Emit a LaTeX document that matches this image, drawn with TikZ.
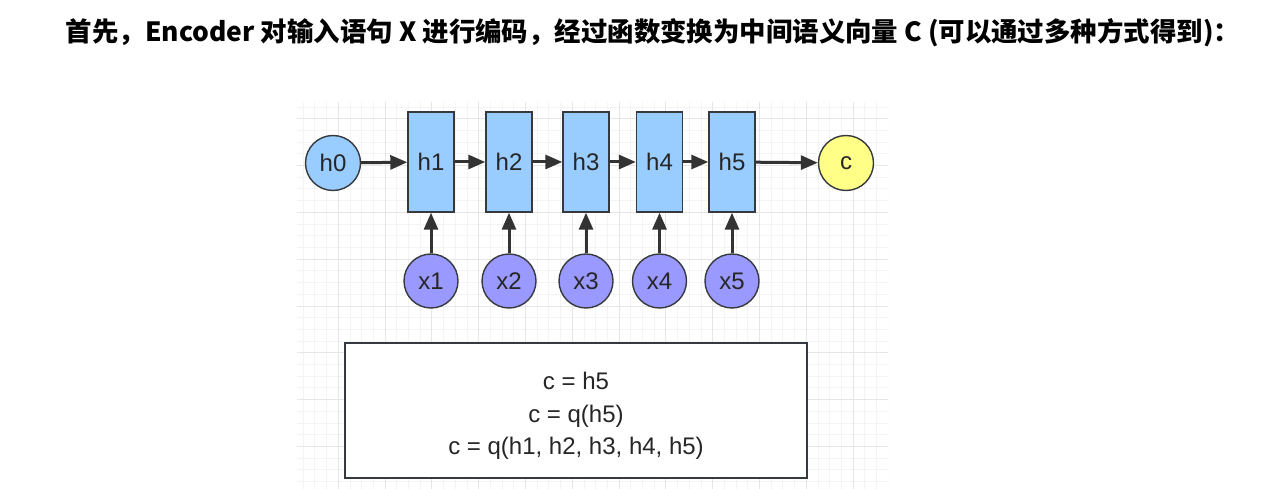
\documentclass[tikz,border=0pt]{standalone}
\usepackage{fontspec}
\setmainfont{Liberation Sans}
\newfontfamily\cjk{Noto Sans CJK SC}
\usetikzlibrary{arrows.meta}
\definecolor{hblue}{RGB}{153,204,255}
\definecolor{xpurple}{RGB}{153,153,255}
\definecolor{cyellow}{RGB}{255,255,136}
\definecolor{edge}{RGB}{54,57,61}
\definecolor{arr}{RGB}{51,51,51}
\definecolor{gridminor}{RGB}{244,244,244}
\definecolor{gridmajor}{RGB}{230,230,230}
\tikzset{
  lbl/.style={font=\fontsize{24}{28}\selectfont, text=black!85},
  hcirc/.style={circle, draw=edge, line width=1.4pt, fill=hblue, minimum size=55pt, inner sep=0pt, lbl},
  hrect/.style={rectangle, draw=edge, line width=1.4pt, fill=hblue, minimum width=46pt, minimum height=100pt, inner sep=0pt, lbl},
  xcirc/.style={circle, draw=edge, line width=1.4pt, fill=xpurple, minimum size=54pt, inner sep=0pt, lbl},
  ccirc/.style={circle, draw=edge, line width=1.4pt, fill=cyellow, minimum size=55pt, inner sep=0pt, lbl},
  conn/.style={draw=arr, line width=3pt, -{Triangle[length=17pt 0, width=14pt 0]}},
  formbox/.style={rectangle, draw=edge, line width=1.4pt, fill=white, minimum width=462pt, minimum height=135pt, inner sep=0pt},
  formtext/.style={align=center, inner sep=0pt, font=\fontsize{24}{32.5}\selectfont, text=black!85}
}
\begin{document}
\begin{tikzpicture}[x=1pt,y=-1pt]
\useasboundingbox (0,0) rectangle (1279,489);
\fill[white] (0,0) rectangle (1279,489);
% grid
\begin{scope}
\clip (297,102) rectangle (888,489);
\foreach \i in {0,...,50} {
  \draw[gridminor, line width=0.8pt] ({853-11.7*\i},102) -- ({853-11.7*\i},489);
}
\foreach \i in {1,2,3} {
  \draw[gridminor, line width=0.8pt] ({853+11.7*\i},102) -- ({853+11.7*\i},489);
}
\foreach \i in {-9,...,24} {
  \draw[gridminor, line width=0.8pt] (297,{212.3+11.7*\i}) -- (888,{212.3+11.7*\i});
}
\foreach \i in {-12,...,1} {
  \draw[gridmajor, line width=0.8pt] ({853+46.8*\i},102) -- ({853+46.8*\i},489);
}
\foreach \i in {-2,...,6} {
  \draw[gridmajor, line width=0.8pt] (297,{212.3+46.8*\i}) -- (888,{212.3+46.8*\i});
}
\end{scope}
% title
\node[anchor=center, inner sep=0pt] (title) at (653,33) {\resizebox{1174pt}{!}{\cjk\bfseries 首先，Encoder 对输入语句 X 进行编码，经过函数变换为中间语义向量 C (可以通过多种方式得到)：}};
% nodes
\node[hcirc] (h0) at (333,163) {h0};
\node[hrect] (h1) at (431,162) {h1};
\node[hrect] (h2) at (509,162) {h2};
\node[hrect] (h3) at (586,162) {h3};
\node[hrect] (h4) at (659.5,162) {h4};
\node[hrect] (h5) at (732,162) {h5};
\node[ccirc] (c) at (846,163) {c};
\node[xcirc] (x1) at (431,281) {x1};
\node[xcirc] (x2) at (509,281) {x2};
\node[xcirc] (x3) at (586,281) {x3};
\node[xcirc] (x4) at (659.5,281) {x4};
\node[xcirc] (x5) at (732,281) {x5};
% connectors
\draw[conn] (h0) -- (h1);
\draw[conn] (h1) -- (h2);
\draw[conn] (h2) -- (h3);
\draw[conn] (h3) -- (h4);
\draw[conn] (h4) -- (h5);
\draw[conn] (h5) -- (c);
\draw[conn] (x1) -- (h1);
\draw[conn] (x2) -- (h2);
\draw[conn] (x3) -- (h3);
\draw[conn] (x4) -- (h4);
\draw[conn] (x5) -- (h5);
% formula box
\node[formbox] (box) at (576,410.5) {};
\node[formtext] (formula) at (576,416) {c = h5\\c = q(h5)\\c = q(h1, h2, h3, h4, h5)};
\end{tikzpicture}
\end{document}
